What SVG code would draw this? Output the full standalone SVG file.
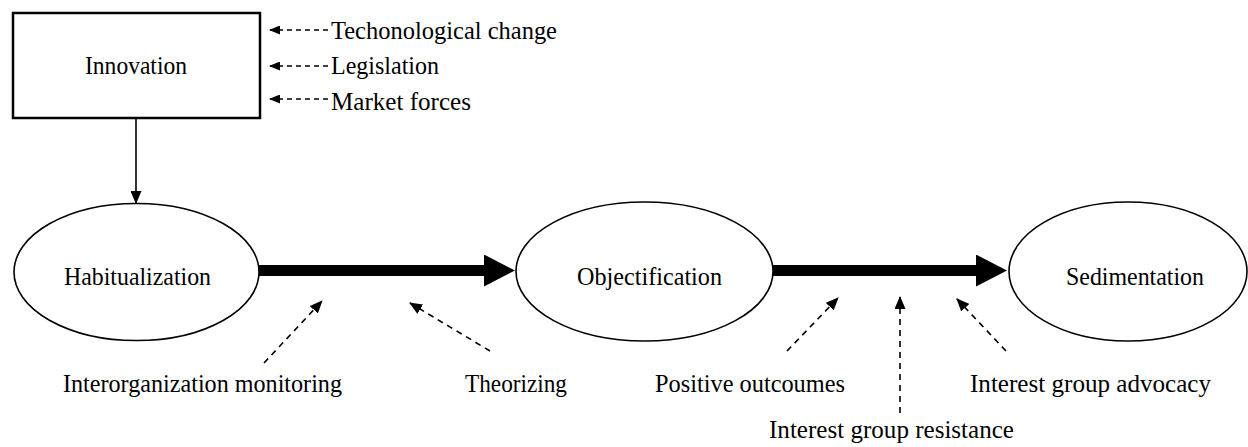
<svg xmlns="http://www.w3.org/2000/svg" width="1248" height="447" viewBox="0 0 1248 447">
  <style>
    text { font-family: "Liberation Serif", "Times New Roman", serif; font-size: 26px; fill: #000; }
    .mid { text-anchor: middle; }
    .box { fill: #fff; stroke: #000; stroke-width: 2.5; }
    .oval { fill: #fff; stroke: #000; stroke-width: 1.6; }
    .solid { stroke: #000; stroke-width: 1.6; fill: none; }
    .thick { stroke: #000; stroke-width: 11; fill: none; }
    .dash { stroke: #000; stroke-width: 1.6; fill: none; stroke-dasharray: 6 5; }
    .short { stroke-dasharray: 5 4; }
  </style>
  <defs>
    <marker id="head" markerUnits="userSpaceOnUse" markerWidth="13" markerHeight="11" refX="12" refY="5.5" orient="auto">
      <path d="M0,0 L13,5.5 L0,11 z" fill="#000"/>
    </marker>
    <marker id="head-small" markerUnits="userSpaceOnUse" markerWidth="11" markerHeight="9" refX="10" refY="4.5" orient="auto">
      <path d="M0,0 L11,4.5 L0,9 z" fill="#000"/>
    </marker>
    <marker id="head-thick" markerUnits="userSpaceOnUse" markerWidth="31" markerHeight="32" refX="1" refY="16" orient="auto">
      <path d="M0,0 L31,16 L0,32 z" fill="#000"/>
    </marker>
  </defs>

  <rect width="1248" height="447" fill="#fff"/>

  <!-- connectors -->
  <g id="connectors">
    <!-- Innovation to Habitualization -->
    <line class="solid" x1="136" y1="118" x2="136" y2="203" marker-end="url(#head)"/>
    <!-- external pressures feeding the innovation box -->
    <line class="dash short" x1="328" y1="30" x2="270" y2="30" marker-end="url(#head-small)"/>
    <line class="dash short" x1="328" y1="66" x2="270" y2="66" marker-end="url(#head-small)"/>
    <line class="dash short" x1="328" y1="99" x2="270" y2="99" marker-end="url(#head-small)"/>
    <!-- stage transitions -->
    <line class="thick" x1="259" y1="270.5" x2="485" y2="270.5" marker-end="url(#head-thick)"/>
    <line class="thick" x1="773" y1="270.5" x2="977" y2="270.5" marker-end="url(#head-thick)"/>
    <!-- influences on the transitions -->
    <line class="dash" x1="264" y1="363" x2="322" y2="301" marker-end="url(#head)"/>
    <line class="dash" x1="490" y1="351" x2="410" y2="303" marker-end="url(#head)"/>
    <line class="dash" x1="787" y1="351" x2="838" y2="298" marker-end="url(#head)"/>
    <line class="dash" x1="900" y1="413" x2="900" y2="297" marker-end="url(#head)"/>
    <line class="dash" x1="1006" y1="351" x2="957" y2="299" marker-end="url(#head)"/>
  </g>

  <g id="innovation">
    <rect class="box" x="13" y="13" width="247" height="105"/>
    <text class="mid" x="136" y="74" textLength="102" lengthAdjust="spacingAndGlyphs">Innovation</text>
  </g>

  <g id="drivers">
    <text x="331" y="39" textLength="226" lengthAdjust="spacingAndGlyphs">Techonological change</text>
    <text x="331" y="74" textLength="108" lengthAdjust="spacingAndGlyphs">Legislation</text>
    <text x="331" y="110" textLength="140" lengthAdjust="spacingAndGlyphs">Market forces</text>
  </g>

  <g id="habitualization">
    <ellipse class="oval" cx="136.5" cy="272" rx="122.5" ry="68.5"/>
    <text class="mid" x="137.5" y="285" textLength="147" lengthAdjust="spacingAndGlyphs">Habitualization</text>
  </g>

  <g id="objectification">
    <ellipse class="oval" cx="644.5" cy="271.5" rx="128.5" ry="69.5"/>
    <text class="mid" x="649.5" y="285" textLength="145" lengthAdjust="spacingAndGlyphs">Objectification</text>
  </g>

  <g id="sedimentation">
    <ellipse class="oval" cx="1128" cy="271.5" rx="119" ry="69.5"/>
    <text class="mid" x="1135" y="285" textLength="138" lengthAdjust="spacingAndGlyphs">Sedimentation</text>
  </g>

  <g id="influences">
    <text x="63" y="392" textLength="279" lengthAdjust="spacingAndGlyphs">Interorganization monitoring</text>
    <text x="465" y="392" textLength="102" lengthAdjust="spacingAndGlyphs">Theorizing</text>
    <text x="655" y="392" textLength="190" lengthAdjust="spacingAndGlyphs">Positive outcoumes</text>
    <text x="970" y="392" textLength="241" lengthAdjust="spacingAndGlyphs">Interest group advocacy</text>
    <text x="769" y="438" textLength="245" lengthAdjust="spacingAndGlyphs">Interest group resistance</text>
  </g>
</svg>
